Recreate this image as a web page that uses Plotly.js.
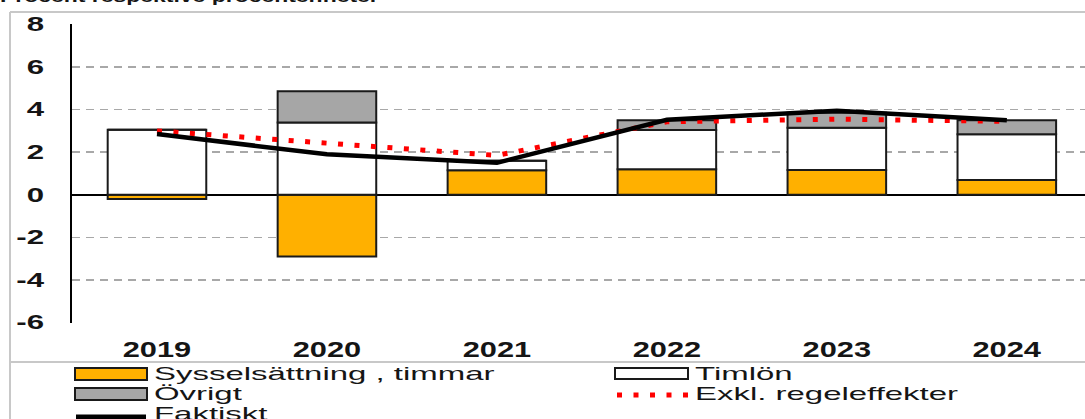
<!DOCTYPE html>
<html>
<head>
<meta charset="utf-8">
<script src="https://cdn.plot.ly/plotly-3.0.1.min.js"></script>
<style>
html,body{margin:0;padding:0;background:#fff;}
#chart{width:1085px;height:419px;}
</style>
</head>
<body>
<div id="chart"></div>
<script>
// ---- data ----
const years = ["2019", "2020", "2021", "2022", "2023", "2024"];
const sysselsattning = [-0.2, -2.9, 1.15, 1.2, 1.17, 0.7];
const timlon = [3.05, 3.4, 0.45, 1.84, 1.98, 2.14];
const ovrigt = [0, 1.46, 0, 0.46, 0.7, 0.66];
const exklRegeleffekter = [3.0, 2.45, 1.85, 3.43, 3.55, 3.45];
const faktiskt = [2.85, 1.9, 1.5, 3.52, 3.95, 3.5];
const yTickVals = [-6, -4, -2, 0, 2, 4, 6, 8];
const yTickText = ["-6", "-4", "-2", "0", "2", "4", "6", "8"];
const seriesNames = ["Sysselsättning , timmar", "Timlön", "Övrigt", "Exkl. regeleffekter", "Faktiskt"];
const titleText = "Procent respektive procentenheter";

// ---- styles ----
const ORANGE = "#FFB000", GREY = "#A6A6A6", RED = "#FF0000", INK = "#151515";
const FONT = "Liberation Sans, Arial, sans-serif";
const W = 1085, H = 419, L = 72, R = 0, T = 24, B = 96;
const pw = W - L - R, ph = H - T - B;
const px = x => (x - L) / pw;
const py = y => (H - B - y) / ph;

const barLine = {color: "#1a1a1a", width: 2};
const traces = [
  {type: "bar", x: years, y: sysselsattning, name: seriesNames[0], marker: {color: ORANGE, line: barLine}},
  {type: "bar", x: years, y: timlon, name: seriesNames[1], marker: {color: "#FFFFFF", line: barLine}},
  {type: "bar", x: years, y: ovrigt, name: seriesNames[2], marker: {color: GREY, line: barLine}},
  {type: "scatter", mode: "lines", x: years, y: exklRegeleffekter, name: seriesNames[3],
   line: {color: RED, width: 5, dash: "5px,11.5px"}},
  {type: "scatter", mode: "lines", x: years, y: faktiskt, name: seriesNames[4],
   line: {color: "#000000", width: 4.5}}
];

const frame = "#C8C8C8";
const shapes = [
  {type: "line", xref: "paper", yref: "paper", x0: px(10), x1: px(1090), y0: py(12), y1: py(12), line: {color: frame, width: 2}},
  {type: "line", xref: "paper", yref: "paper", x0: px(10), x1: px(10), y0: py(12), y1: py(425), line: {color: frame, width: 2}},
  {type: "line", xref: "paper", yref: "paper", x0: px(10), x1: px(1090), y0: py(362), y1: py(362), line: {color: frame, width: 2}},
  // legend swatches
  {type: "rect", xref: "paper", yref: "paper", x0: px(75), x1: px(147), y0: py(368), y1: py(380), fillcolor: ORANGE, line: {color: "#1a1a1a", width: 2}},
  {type: "rect", xref: "paper", yref: "paper", x0: px(75), x1: px(147), y0: py(388), y1: py(400), fillcolor: GREY, line: {color: "#1a1a1a", width: 2}},
  {type: "line", xref: "paper", yref: "paper", x0: px(76), x1: px(146), y0: py(417), y1: py(417), line: {color: "#000", width: 5}},
  {type: "rect", xref: "paper", yref: "paper", x0: px(615), x1: px(688), y0: py(368), y1: py(379), fillcolor: "#fff", line: {color: "#1a1a1a", width: 2}},
  {type: "line", xref: "paper", yref: "paper", x0: px(617), x1: px(690), y0: py(395), y1: py(395), line: {color: RED, width: 5, dash: "5px,11.5px"}}
];

const legFont = {family: FONT, size: 18, color: INK};
const ann = (text, x, y) => ({text, xref: "paper", yref: "paper", x: px(x), y: py(y), xanchor: "left", yanchor: "middle",
  showarrow: false, borderpad: 0, font: legFont});
const annotations = [
  ann(seriesNames[0], 153, 374),
  ann(seriesNames[1], 694, 374),
  ann(seriesNames[2], 153, 394),
  ann(seriesNames[3], 694, 394),
  ann(seriesNames[4], 153, 414),
  {text: titleText, xref: "paper", yref: "paper", x: px(-1), y: py(-4), xanchor: "left", yanchor: "middle", showarrow: false,
   borderpad: 0, font: {family: FONT, size: 17, weight: "bold", color: INK}}
];

const layout = {
  width: W, height: H,
  margin: {l: L, r: R, t: T, b: B, pad: 0},
  paper_bgcolor: "#fff", plot_bgcolor: "#fff",
  barmode: "relative", bargap: 0.42,
  showlegend: false,
  xaxis: {
    type: "category", range: [-0.5, 5.46],
    showgrid: false, showline: false, zeroline: false,
    ticks: "", ticklabelstandoff: 11,
    tickfont: {family: FONT, size: 22, weight: "bold", color: INK}
  },
  yaxis: {
    range: [-6.02, 8.02], tickmode: "array", tickvals: yTickVals, ticktext: yTickText,
    showgrid: true, gridcolor: "#A8A8A8", gridwidth: 1.5, griddash: "8px,6px",
    showline: true, linecolor: "#000", linewidth: 2,
    zeroline: true, zerolinecolor: "#000", zerolinewidth: 2,
    ticks: "", ticklabelstandoff: 22,
    tickfont: {family: FONT, size: 19.5, weight: "bold", color: INK}
  },
  shapes, annotations
};

// Horizontal stretch of glyphs to match the wide lettering of the original
function stretch(el, s, anchor) {
  const bb = el.getBBox();
  const ox = anchor === "left" ? bb.x : anchor === "right" ? bb.x + bb.width : bb.x + bb.width / 2;
  const prev = el.getAttribute("transform") || "";
  el.setAttribute("transform", (prev + ` translate(${ox} 0) scale(${s} 1) translate(${-ox} 0)`).trim());
}

Plotly.newPlot("chart", traces, layout, {staticPlot: true, displayModeBar: false}).then(gd => {
  gd.querySelectorAll(".xtick text").forEach(t => stretch(t, 1.4, "middle"));
  gd.querySelectorAll(".ytick text").forEach(t => stretch(t, 1.6, "right"));
  const at = gd.querySelectorAll(".annotation-text");
  at.forEach((t, i) => stretch(t, i === 5 ? 1.35 : 1.83, "left"));
});
</script>
</body>
</html>
